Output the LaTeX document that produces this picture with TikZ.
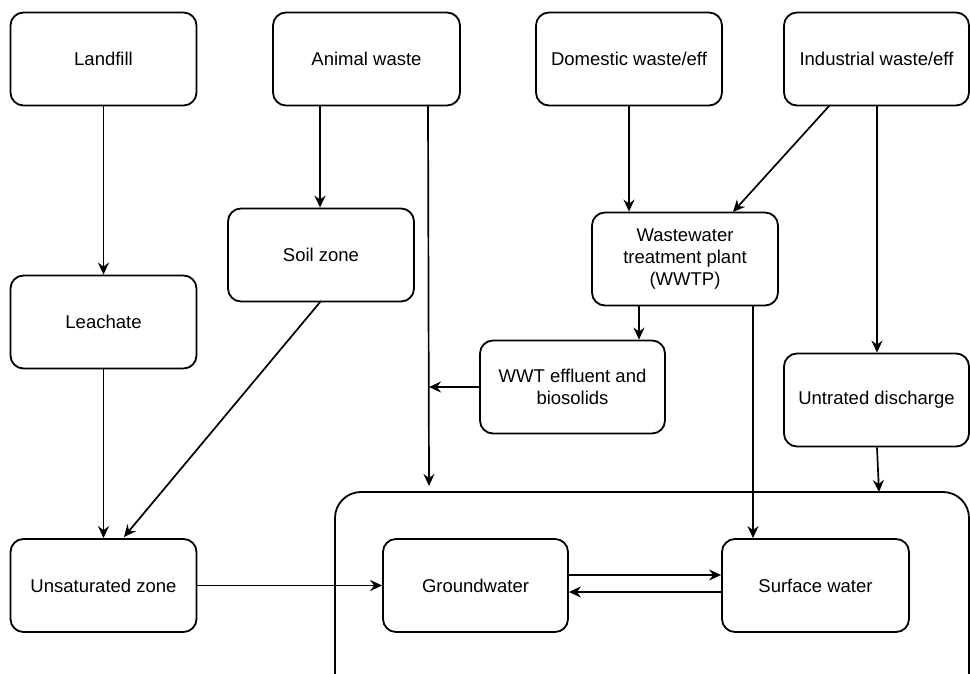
\documentclass[tikz,border=0pt]{standalone}
\usepackage{fontspec}
\setmainfont{Liberation Sans}
\usetikzlibrary{arrows.meta}
\begin{document}
\begin{tikzpicture}[x=1pt,y=-1pt,
  box/.style={draw, line width=1.8pt, rounded corners=13pt, align=center,
    minimum width=186pt, minimum height=93pt, inner sep=0pt,
    font=\fontsize{18.5}{22}\selectfont},
  arr/.style={line width=1.7pt, -{Stealth[length=12pt,width=11pt,inset=4pt]}}]
\useasboundingbox (0,0) rectangle (970,674);
% container
\node[draw, line width=1.8pt, rounded corners=26pt, minimum width=634pt, minimum height=210pt, inner sep=0pt] (water) at (652,597) {};
% boxes
\node[box] (land) at (103.5,59) {Landfill};
\node[box, minimum width=187pt] (animal) at (366.5,59) {Animal waste};
\node[box] (dom) at (629,59) {Domestic waste/eff};
\node[box, minimum width=185pt] (ind) at (876.5,59) {Industrial waste/eff};
\node[box] (soil) at (321,255) {Soil zone};
\node[box] (leach) at (103.5,322) {Leachate};
\node[box] (wwtp) at (685,259) {Wastewater\\treatment plant\\(WWTP)};
\node[box, minimum width=185pt] (eff) at (572.5,387) {WWT effluent and\\biosolids};
\node[box, minimum width=185pt] (untr) at (876.5,400) {Untrated discharge};
\node[box] (unsat) at (103.5,585.5) {Unsaturated zone};
\node[box, minimum width=185pt] (gw) at (475.5,585.5) {Groundwater};
\node[box, minimum width=187pt] (sw) at (815.5,585.5) {Surface water};
% junction coordinates
\coordinate (awtop) at (428,105);
\coordinate (awend) at (429,486);
\coordinate (join) at (429,387);
\coordinate (soilout) at (321,301);
\coordinate (unsatin) at (124,537);
\coordinate (indout) at (830,105);
\coordinate (wwtpin) at (733,212);
\coordinate (untrin) at (879,492);
% connectors
\draw[arr] (land.south) -- (leach.north);
\draw[arr] (leach.south) -- (unsat.north);
\draw[arr] (animal.south -| 320,0) -- (soil.north -| 320,0);
\draw[arr] (awtop) -- (awend);
\draw[arr] (eff.west) -- (join);
\draw[arr] (soilout) -- (unsatin);
\draw[arr] (unsat.east) -- (gw.west);
\draw[arr] (gw.east |- 0,575) -- (sw.west |- 0,575);
\draw[arr] (sw.west |- 0,592) -- (gw.east |- 0,592);
\draw[arr] (dom.south) -- (dom.south |- wwtp.north);
\draw[arr] (indout) -- (wwtpin);
\draw[arr] (ind.south -| 877,0) -- (untr.north -| 877,0);
\draw[arr] (wwtp.south -| 639,0) -- (eff.north -| 639,0);
\draw[arr] (wwtp.south -| 753,0) -- (sw.north -| 753,0);
\draw[arr] (untr.south -| 877,0) -- (untrin);
\end{tikzpicture}
\end{document}
